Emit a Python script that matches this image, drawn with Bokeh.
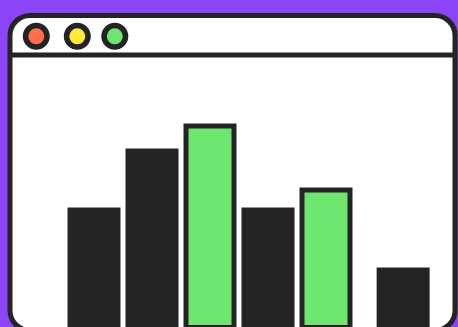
from bokeh.plotting import figure
from bokeh.models import ColumnDataSource, Range1d, BoxAnnotation, GlobalInlineStyleSheet
from bokeh.embed import file_html
from bokeh.resources import INLINE

# ---- data ----
categories = ["A", "B", "C", "D", "E", "F"]
values = [120, 179, 204, 120, 140, 60]
highlight = [False, False, True, False, True, False]
slots = [0, 1, 2, 3, 4, 5.33]

PURPLE = "#8b44f6"
DARK = "#242424"
GREEN = "#6ee56e"
DOTS = ["#ff6f4f", "#ffe83b", "#6ee56e"]

W, H = 458, 327
p = figure(width=W, height=H, output_backend="svg", toolbar_location=None,
           x_range=Range1d(0, W), y_range=Range1d(0, H),
           x_axis_location=None, y_axis_location=None,
           min_border=0, outline_line_color=None,
           background_fill_color=PURPLE, border_fill_color=PURPLE)
p.grid.visible = False
p.stylesheets = [GlobalInlineStyleSheet(css=f"html, body {{ margin:0; padding:0; background:{PURPLE}; overflow:hidden; }}")]

# window frame
win = BoxAnnotation(left=9.5, right=454.5, top=312, bottom=-3,
                    fill_color="white", fill_alpha=1.0,
                    line_color=DARK, line_width=5, line_alpha=1.0,
                    border_radius=20, level="underlay")
p.add_layout(win)
p.line([9.5, 454.5], [272.5, 272.5], line_color=DARK, line_width=5)

# traffic-light dots
p.scatter([35.8, 76.8, 114.3], [291.2] * 3, size=21.5, fill_color=DOTS,
          line_color=DARK, line_width=5.5)

# bars
step, x0, bw, lw = 58, 93.5, 53, 5
xs = [x0 + step * s for s in slots]
dark = ColumnDataSource(dict(
    x=[x for x, h in zip(xs, highlight) if not h],
    top=[v for v, h in zip(values, highlight) if not h],
    cat=[c for c, h in zip(categories, highlight) if not h]))
green = ColumnDataSource(dict(
    x=[x for x, h in zip(xs, highlight) if h],
    top=[v - lw / 2 for v, h in zip(values, highlight) if h],
    cat=[c for c, h in zip(categories, highlight) if h]))
p.vbar(x="x", top="top", bottom=-10, width=bw, source=dark,
       fill_color=DARK, line_color=None)
p.vbar(x="x", top="top", bottom=-10, width=bw - lw, source=green,
       fill_color=GREEN, line_color=DARK, line_width=lw, line_join="miter")

open("out.html", "w").write(file_html(p, INLINE))
